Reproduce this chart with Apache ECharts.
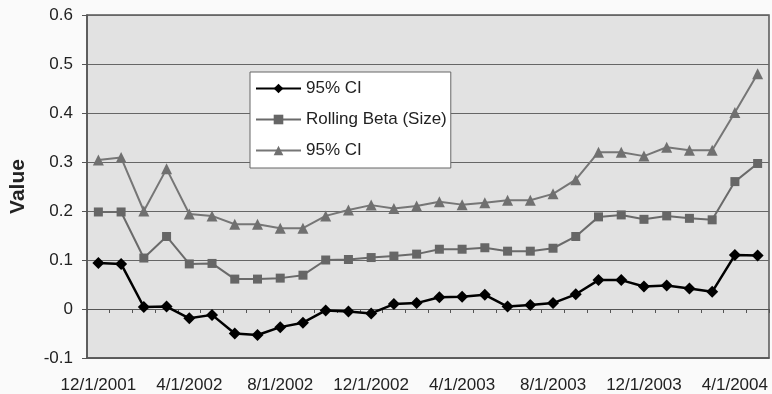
<!DOCTYPE html>
<html>
<head>
<meta charset="utf-8">
<script src="https://cdn.jsdelivr.net/npm/echarts@6/dist/echarts.min.js"></script>
<style>
html,body{margin:0;padding:0;background:#fafafa;}
#chart{width:772px;height:394px;}
</style>
</head>
<body>
<div id="chart"></div>
<script>
const categories = ["12/1/2001","1/1/2002","2/1/2002","3/1/2002","4/1/2002","5/1/2002","6/1/2002","7/1/2002","8/1/2002","9/1/2002","10/1/2002","11/1/2002","12/1/2002","1/1/2003","2/1/2003","3/1/2003","4/1/2003","5/1/2003","6/1/2003","7/1/2003","8/1/2003","9/1/2003","10/1/2003","11/1/2003","12/1/2003","1/1/2004","2/1/2004","3/1/2004","4/1/2004","5/1/2004"];
const lowerCI = [0.094,0.092,0.004,0.005,-0.019,-0.012,-0.050,-0.053,-0.037,-0.028,-0.003,-0.005,-0.009,0.010,0.012,0.024,0.025,0.029,0.005,0.008,0.012,0.030,0.059,0.059,0.046,0.048,0.042,0.035,0.110,0.109];
const rollingBeta = [0.198,0.198,0.104,0.148,0.092,0.093,0.061,0.061,0.063,0.069,0.100,0.101,0.105,0.108,0.112,0.122,0.122,0.125,0.118,0.118,0.124,0.148,0.188,0.192,0.183,0.190,0.185,0.182,0.260,0.297];
const upperCI = [0.304,0.309,0.200,0.286,0.194,0.190,0.173,0.173,0.165,0.165,0.190,0.202,0.212,0.205,0.210,0.219,0.213,0.217,0.222,0.222,0.235,0.264,0.320,0.320,0.312,0.330,0.324,0.324,0.401,0.480];
const yTicks = [-0.1,0,0.1,0.2,0.3,0.4,0.5,0.6];

const chart = echarts.init(document.getElementById('chart'));
const font = 'Arial, "Liberation Sans", sans-serif';
chart.setOption({
  animation: false,
  backgroundColor: '#fafafa',
  grid: {left: 85, right: 3, top: 15, bottom: 36, show: true, backgroundColor: '#e2e2e2', borderColor: '#555', borderWidth: 1.5},
  legend: {
    orient: 'vertical', left: 250, top: 72,
    backgroundColor: '#fff', borderColor: '#666', borderWidth: 1,
    padding: [8, 4, 9, 5], itemWidth: 45, itemHeight: 12, itemGap: 14,
    textStyle: {fontFamily: font, fontSize: 17, color: '#222'},
    formatter: n => n.indexOf('95% CI') === 0 ? '95% CI' : n,
    data: ['95% CI (lower)', 'Rolling Beta (Size)', '95% CI (upper)']
  },
  xAxis: [{
    type: 'category', data: categories, boundaryGap: true,
    axisLine: {onZero: true, lineStyle: {color: '#555', width: 1}},
    axisTick: {show: true, interval: 0, length: 4, lineStyle: {color: '#555'}},
    axisLabel: {show: false}, splitLine: {show: false}
  }, {
    type: 'category', data: categories, boundaryGap: true, position: 'bottom',
    axisLine: {onZero: false, lineStyle: {color: '#555', width: 1.5}},
    axisTick: {show: false},
    axisLabel: {interval: 3, margin: 19, fontFamily: font, fontSize: 17, color: '#222'}
  }],
  yAxis: {
    type: 'value', min: yTicks[0], max: yTicks[yTicks.length - 1], interval: 0.1,
    name: 'Value', nameLocation: 'middle', nameRotate: 90, nameGap: 58,
    nameTextStyle: {fontFamily: font, fontSize: 21, fontWeight: 'bold', color: '#222'},
    axisLine: {show: true, lineStyle: {color: '#555', width: 1.5}},
    axisTick: {show: true, length: 5, lineStyle: {color: '#555'}},
    axisLabel: {margin: 14, fontFamily: font, fontSize: 17, color: '#222', formatter: v => String(Math.round(v * 10) / 10)},
    splitLine: {show: true, lineStyle: {color: '#666', width: 1}}
  },
  series: [{
    name: '95% CI (lower)', type: 'line', data: lowerCI, xAxisIndex: 0,
    symbol: 'diamond', symbolSize: 12, color: '#000',
    lineStyle: {color: '#000', width: 2.5}, itemStyle: {color: '#000'}
  }, {
    name: 'Rolling Beta (Size)', type: 'line', data: rollingBeta, xAxisIndex: 0,
    symbol: 'rect', symbolSize: 9, color: '#666',
    lineStyle: {color: '#6a6a6a', width: 2}, itemStyle: {color: '#666'}
  }, {
    name: '95% CI (upper)', type: 'line', data: upperCI, xAxisIndex: 0,
    symbol: 'triangle', symbolSize: 11, color: '#777',
    lineStyle: {color: '#767676', width: 2}, itemStyle: {color: '#707070'}
  }]
});
</script>
</body>
</html>
